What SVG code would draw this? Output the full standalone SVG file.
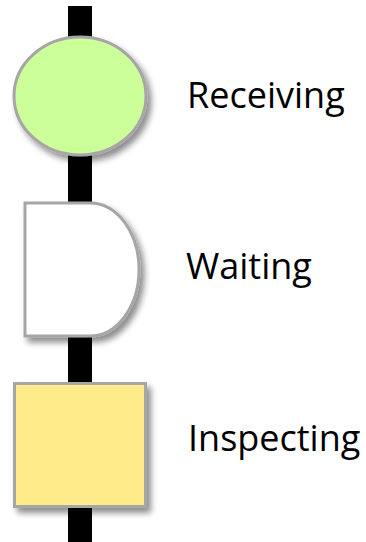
<svg xmlns="http://www.w3.org/2000/svg" width="366" height="542" viewBox="0 0 366 542">
<defs>
<filter id="sh" x="-20%" y="-20%" width="150%" height="150%">
<feGaussianBlur in="SourceAlpha" stdDeviation="3"/>
<feOffset dx="4" dy="5" result="b"/>
<feComponentTransfer><feFuncA type="linear" slope="0.45"/></feComponentTransfer>
<feMerge><feMergeNode/><feMergeNode in="SourceGraphic"/></feMerge>
</filter>
</defs>
<style>
.node{stroke:#a6a6a6;stroke-width:3;filter:url(#sh)}
.lbl{font-family:"Open Sans","Noto Sans",sans-serif;font-size:36px;fill:#000}
</style>
<rect width="366" height="542" fill="#fff"/>
<g id="connectors">
<rect x="68" y="6" width="24" height="536" fill="#000"/>
</g>
<g id="receiving">
<ellipse class="node" cx="80" cy="96" rx="66" ry="59" fill="#ccff99"/>
<text class="lbl" x="187" y="108">Receiving</text>
</g>
<g id="waiting">
<path class="node" d="M25,203 H90 A49,66.5 0 0 1 90,336 H25 Z" fill="#fff"/>
<text class="lbl" x="186" y="279">Waiting</text>
</g>
<g id="inspecting">
<rect class="node" x="14.5" y="383.5" width="131" height="123" fill="#feeb89"/>
<text class="lbl" x="188" y="451">Inspecting</text>
</g>
</svg>
